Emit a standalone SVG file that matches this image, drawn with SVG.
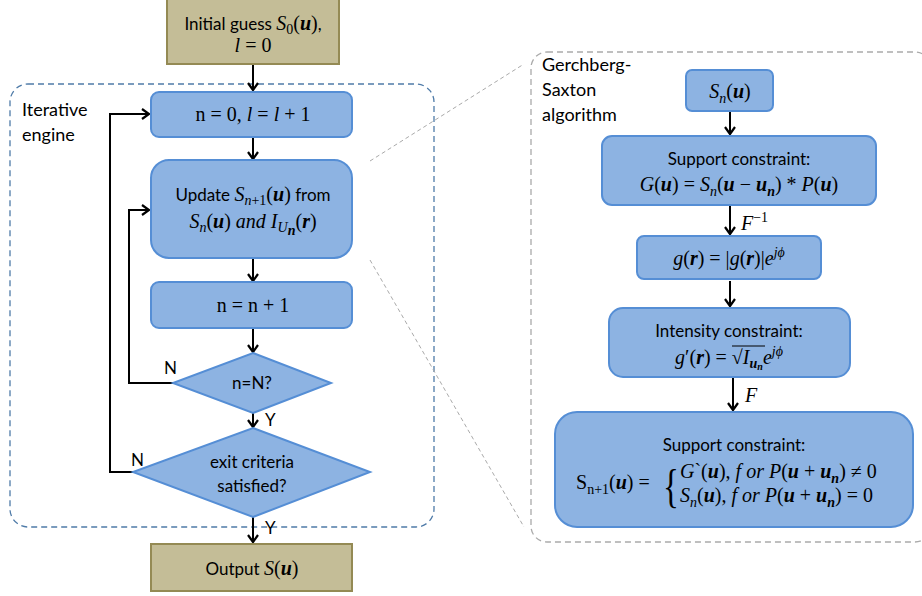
<svg xmlns="http://www.w3.org/2000/svg" width="922" height="596" viewBox="0 0 922 596">
<defs>
<style>
.t{font-family:Lato,"Liberation Sans",sans-serif;font-size:17px;fill:#000}
.lbl{font-family:Lato,"Liberation Sans",sans-serif;font-size:18px;fill:#000}
.m{font-family:"Liberation Serif",serif;font-style:italic;font-size:20px}
.r{font-style:normal}
.b{font-weight:bold}
.s{font-size:14px}
.blue{fill:#8DB3E2;stroke:#558ED5;stroke-width:2}
.tan{fill:#C4BD97;stroke:#948A54;stroke-width:2}
.ln{fill:none;stroke:#000;stroke-width:2}
</style>
<marker id="ah" markerWidth="12" markerHeight="12" refX="9" refY="6" orient="auto" markerUnits="userSpaceOnUse">
<path d="M2,1 L9,6 L2,11" fill="none" stroke="#000" stroke-width="2.2"/>
</marker>
</defs>
<rect width="922" height="596" fill="#fff"/>

<g id="containers">
<rect id="iterative-engine" x="10" y="84" width="424" height="443" rx="18" fill="none" stroke="#4F7BA8" stroke-width="1.3" stroke-dasharray="6,4"/>
<rect id="gs-frame" x="531" y="52" width="400" height="490" rx="16" fill="none" stroke="#AAAAAA" stroke-width="1.3" stroke-dasharray="6,4"/>
<line x1="370" y1="161" x2="524" y2="64" stroke="#AAAAAA" stroke-width="1" stroke-dasharray="4,3"/>
<line x1="370" y1="260" x2="524" y2="527" stroke="#AAAAAA" stroke-width="1" stroke-dasharray="4,3"/>
<text class="lbl" x="22" y="116">Iterative</text>
<text class="lbl" x="22" y="141">engine</text>
<text class="lbl" x="542" y="71">Gerchberg-</text>
<text class="lbl" x="542" y="96">Saxton</text>
<text class="lbl" x="542" y="121">algorithm</text>
</g>

<g id="connectors">
<line class="ln" x1="253" y1="64" x2="253" y2="90" marker-end="url(#ah)"/>
<line class="ln" x1="253" y1="137" x2="253" y2="159" marker-end="url(#ah)"/>
<line class="ln" x1="253" y1="258" x2="253" y2="281" marker-end="url(#ah)"/>
<line class="ln" x1="253" y1="328" x2="253" y2="352" marker-end="url(#ah)"/>
<line class="ln" x1="253" y1="413" x2="253" y2="427" marker-end="url(#ah)"/>
<line class="ln" x1="253" y1="517" x2="253" y2="542" marker-end="url(#ah)"/>
<polyline class="ln" points="173,383 129,383 129,210 149,210" marker-end="url(#ah)"/>
<polyline class="ln" points="133,472 110,472 110,114 149,114" marker-end="url(#ah)"/>
<text class="t" x="164" y="374">N</text>
<text class="t" x="131" y="466">N</text>
<text class="t" x="265" y="426">Y</text>
<text class="t" x="265" y="534">Y</text>
<line class="ln" x1="730" y1="111" x2="730" y2="134" marker-end="url(#ah)"/>
<line class="ln" x1="730" y1="206" x2="730" y2="234" marker-end="url(#ah)"/>
<line class="ln" x1="730" y1="281" x2="730" y2="306" marker-end="url(#ah)"/>
<line class="ln" x1="733" y1="378" x2="733" y2="410" marker-end="url(#ah)"/>
<text class="m" x="741" y="230">F<tspan class="r s" dy="-8">−1</tspan></text>
<text class="m" x="745" y="402">F</text>
</g>

<g id="initial-guess">
<rect class="tan" x="167" y="-2" width="172" height="66"/>
<text class="t" x="253" y="30" text-anchor="middle">Initial guess <tspan class="m">S</tspan><tspan class="m r s" dy="4">0</tspan><tspan class="m r" dy="-4">(</tspan><tspan class="m b">u</tspan><tspan class="m r">)</tspan>,</text>
<text class="m" x="253" y="52" text-anchor="middle">l <tspan class="r">= 0</tspan></text>
</g>

<g id="init-n">
<rect class="blue" x="151" y="92" width="201" height="45" rx="8"/>
<text class="m" x="253" y="121" text-anchor="middle"><tspan class="r">n = 0, </tspan>l<tspan class="r"> = </tspan>l<tspan class="r"> + 1</tspan></text>
</g>

<g id="update">
<rect class="blue" x="151" y="160" width="201" height="98" rx="18"/>
<text class="t" x="253" y="201" text-anchor="middle">Update <tspan class="m">S</tspan><tspan class="m s" dy="4">n</tspan><tspan class="m r s">+1</tspan><tspan class="m r" dy="-4">(</tspan><tspan class="m b">u</tspan><tspan class="m r">)</tspan> from</text>
<text class="m" x="253" y="228" text-anchor="middle">S<tspan class="s" dy="4">n</tspan><tspan class="r" dy="-4">(</tspan><tspan class="b">u</tspan><tspan class="r">) </tspan>and I<tspan class="s" dy="4">U</tspan><tspan class="s b" dy="3">n</tspan><tspan class="r" dy="-7">(</tspan><tspan class="b">r</tspan><tspan class="r">)</tspan></text>
</g>

<g id="increment">
<rect class="blue" x="151" y="282" width="201" height="46" rx="8"/>
<text class="m r" x="253" y="312" text-anchor="middle">n = n + 1</text>
</g>

<g id="check-n">
<polygon class="blue" points="253,353 331,383 253,413 173,383"/>
<text class="t" x="252" y="389" text-anchor="middle">n=N?</text>
</g>

<g id="exit-check">
<polygon class="blue" points="253,428 370,472 253,517 133,472"/>
<text class="t" x="252" y="468" text-anchor="middle">exit criteria</text>
<text class="t" x="252" y="492" text-anchor="middle">satisfied?</text>
</g>

<g id="output">
<rect class="tan" x="151" y="544" width="201" height="47"/>
<text class="t" x="252" y="575" text-anchor="middle">Output <tspan class="m">S</tspan><tspan class="m r">(</tspan><tspan class="m b">u</tspan><tspan class="m r">)</tspan></text>
</g>

<g id="gs-sn">
<rect class="blue" x="686" y="70" width="87" height="41" rx="6"/>
<text class="m" x="730" y="98" text-anchor="middle">S<tspan class="s" dy="5">n</tspan><tspan class="r" dy="-5">(</tspan><tspan class="b">u</tspan><tspan class="r">)</tspan></text>
</g>

<g id="gs-support">
<rect class="blue" x="602" y="136" width="274" height="69" rx="10"/>
<text class="t" x="739" y="165" text-anchor="middle">Support constraint:</text>
<text class="m" x="739" y="191" text-anchor="middle">G<tspan class="r">(</tspan><tspan class="b">u</tspan><tspan class="r">) = </tspan>S<tspan class="s" dy="5">n</tspan><tspan class="r" dy="-5">(</tspan><tspan class="b">u</tspan><tspan class="r"> − </tspan><tspan class="b">u</tspan><tspan class="s b" dy="5">n</tspan><tspan class="r" dy="-5">) * </tspan>P<tspan class="r">(</tspan><tspan class="b">u</tspan><tspan class="r">)</tspan></text>
</g>

<g id="gs-g">
<rect class="blue" x="637" y="236" width="184" height="43" rx="7"/>
<text class="m" x="729" y="265" text-anchor="middle">g<tspan class="r">(</tspan><tspan class="b">r</tspan><tspan class="r">) = |</tspan>g<tspan class="r">(</tspan><tspan class="b">r</tspan><tspan class="r">)|</tspan>e<tspan class="s" dy="-8">jϕ</tspan></text>
</g>

<g id="gs-intensity">
<rect class="blue" x="609" y="308" width="241" height="69" rx="14"/>
<text class="t" x="729" y="337" text-anchor="middle">Intensity constraint:</text>
<text class="m" x="729" y="364" text-anchor="middle">g<tspan class="r">′(</tspan><tspan class="b">r</tspan><tspan class="r">) = √</tspan>I<tspan class="s b" dy="4">u</tspan><tspan class="b" style="font-size:10px" dy="2">n</tspan><tspan dy="-6">e</tspan><tspan class="s" dy="-8">jϕ</tspan></text>
<line x1="732" y1="346" x2="765" y2="346" stroke="#000" stroke-width="1"/>
</g>

<g id="gs-update">
<rect class="blue" x="555" y="412" width="358" height="115" rx="22"/>
<text class="t" x="734" y="451" text-anchor="middle">Support constraint:</text>
<text class="m" x="576" y="489"><tspan class="r">S</tspan><tspan class="r s" dy="5">n+1</tspan><tspan class="r" dy="-5">(</tspan><tspan class="b">u</tspan><tspan class="r">) =</tspan></text>
<text x="0" y="0" transform="translate(663,502) scale(0.75,1.05)" style="font-family:'Liberation Serif',serif;font-size:44px;font-weight:normal">{</text>
<text class="m" x="680" y="478">G<tspan class="r">`(</tspan><tspan class="b">u</tspan><tspan class="r">), </tspan>f or P<tspan class="r">(</tspan><tspan class="b">u</tspan><tspan class="r"> + </tspan><tspan class="b">u</tspan><tspan class="s b" dy="5">n</tspan><tspan class="r" dy="-5">) ≠ 0</tspan></text>
<text class="m" x="680" y="502">S<tspan class="s" dy="5">n</tspan><tspan class="r" dy="-5">(</tspan><tspan class="b">u</tspan><tspan class="r">), </tspan>f or P<tspan class="r">(</tspan><tspan class="b">u</tspan><tspan class="r"> + </tspan><tspan class="b">u</tspan><tspan class="s b" dy="5">n</tspan><tspan class="r" dy="-5">) = 0</tspan></text>
</g>
</svg>
